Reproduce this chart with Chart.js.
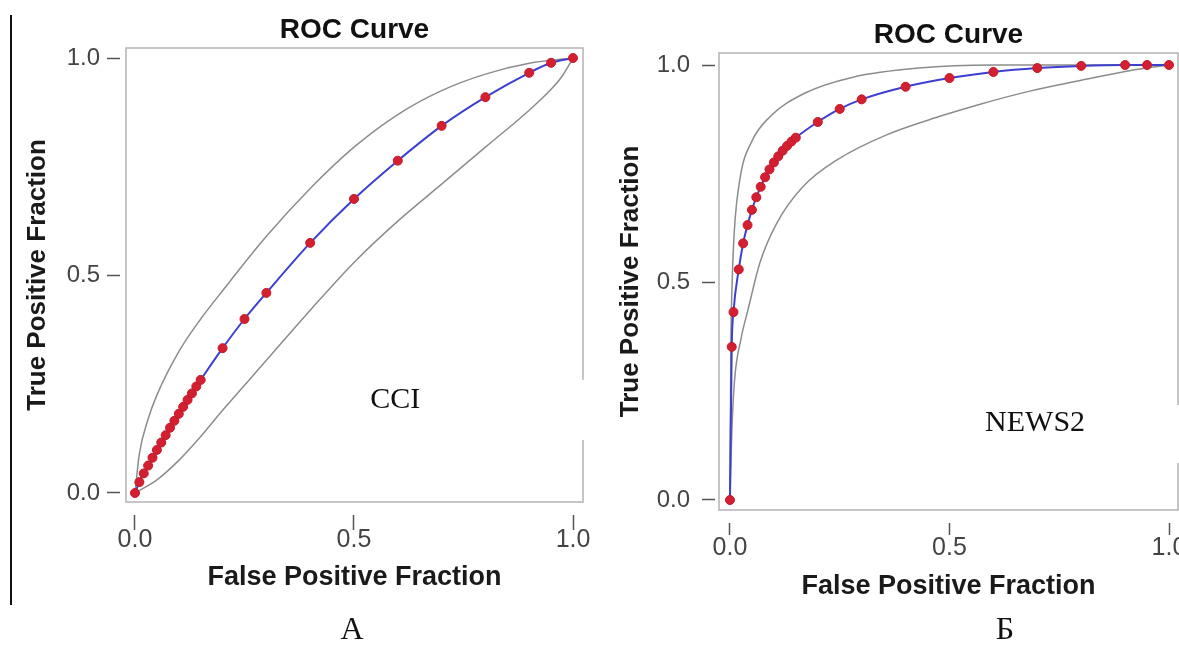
<!DOCTYPE html>
<html>
<head>
<meta charset="utf-8">
<script src="https://cdn.jsdelivr.net/npm/chart.js@4.4.1/dist/chart.umd.min.js"></script>
<style>
  html, body { margin: 0; padding: 0; background: #fff; overflow: hidden; }
  body { width: 1179px; height: 657px; position: relative; }
  .pane { position: absolute; top: 0; }
  #rule { position: absolute; left: 10px; top: 15px; width: 2px; height: 590px; background: #111; }
  .tag { position: absolute; top: 610px; font-family: "Liberation Serif", "Times New Roman", serif;
         font-size: 32px; color: #111; transform: translateX(-50%); }
</style>
</head>
<body>
<div id="rule"></div>
<div class="pane" style="left:0"><canvas id="cciChart" width="600" height="620"></canvas></div>
<div class="pane" style="left:600px"><canvas id="newsChart" width="600" height="620"></canvas></div>
<div class="tag" style="left:352px">А</div>
<div class="tag" style="left:1005px">Б</div>

<script>
const tickVals = [0, 0.5, 1.0];

// CCI: fitted ROC points
const cciFpf = [0, 0.01, 0.02, 0.03, 0.04, 0.05, 0.06, 0.07, 0.08, 0.09, 0.10, 0.11, 0.12, 0.13, 0.14, 0.15,
                0.20, 0.25, 0.30, 0.40, 0.50, 0.60, 0.70, 0.80, 0.90, 0.95, 1.0];
const cciTpf = [0, 0.025, 0.045, 0.063, 0.081, 0.099, 0.116, 0.133, 0.150, 0.166, 0.182, 0.198, 0.214, 0.229, 0.245, 0.260,
                0.333, 0.400, 0.460, 0.575, 0.676, 0.764, 0.844, 0.910, 0.966, 0.989, 1.0];
// CCI: confidence band
const cciUpperFpf = [0, 0.01, 0.03, 0.05, 0.10, 0.15, 0.20, 0.30, 0.40, 0.50, 0.60, 0.70, 0.80, 0.90, 1.0];
const cciUpperTpf = [0, 0.09, 0.17, 0.225, 0.325, 0.40, 0.465, 0.59, 0.70, 0.795, 0.87, 0.925, 0.963, 0.988, 1.0];
const cciLowerFpf = [0, 0.05, 0.10, 0.15, 0.20, 0.30, 0.40, 0.50, 0.60, 0.70, 0.80, 0.90, 0.95, 0.975, 1.0];
const cciLowerTpf = [0, 0.03, 0.075, 0.13, 0.19, 0.305, 0.42, 0.53, 0.625, 0.71, 0.795, 0.88, 0.928, 0.958, 1.0];

// NEWS2: fitted ROC points
const newsFpf = [0, 0.004, 0.008, 0.02, 0.03, 0.04, 0.05, 0.06, 0.07, 0.08, 0.09, 0.10, 0.11, 0.12, 0.13, 0.14, 0.15,
                 0.20, 0.25, 0.30, 0.40, 0.50, 0.60, 0.70, 0.80, 0.90, 0.95, 1.0];
const newsTpf = [0, 0.352, 0.432, 0.530, 0.590, 0.632, 0.667, 0.696, 0.720, 0.742, 0.760, 0.776, 0.790, 0.803, 0.814, 0.824, 0.833,
                 0.869, 0.899, 0.921, 0.950, 0.970, 0.984, 0.993, 0.998, 1.0, 1.0, 1.0];
// NEWS2: confidence band
const newsUpperFpf = [0, 0.002, 0.005, 0.01, 0.023, 0.05, 0.09, 0.17, 0.28, 0.43, 0.60, 0.80, 1.0];
const newsUpperTpf = [0, 0.35, 0.50, 0.62, 0.74, 0.825, 0.88, 0.935, 0.972, 0.993, 1.0, 1.0, 1.0];
const newsLowerFpf = [0, 0.004, 0.01, 0.025, 0.041, 0.068, 0.107, 0.166, 0.244, 0.358, 0.478, 0.57, 0.683, 0.80, 0.91, 1.0];
const newsLowerTpf = [0, 0.15, 0.27, 0.37, 0.437, 0.545, 0.637, 0.72, 0.782, 0.84, 0.882, 0.91, 0.94, 0.965, 0.987, 1.0];

const SANS = '"Liberation Sans", Arial, sans-serif';
const pts = (xs, ys) => xs.map((x, i) => ({ x, y: ys[i] }));

// light grey box around the plotting area
const framePlugin = {
  id: 'frame',
  beforeDatasetsDraw(chart) {
    const { ctx, chartArea: a } = chart;
    ctx.save();
    ctx.strokeStyle = '#b3b3b3';
    ctx.lineWidth = 1.5;
    ctx.strokeRect(a.left, a.top, a.right - a.left, a.bottom - a.top);
    ctx.restore();
  }
};

// score name in a white text box
const notePlugin = {
  id: 'note',
  afterDraw(chart, args, o) {
    const { ctx, chartArea: a, scales: { x, y } } = chart;
    const left = x.getPixelForValue(o.boxFrom);
    const top = y.getPixelForValue(o.boxTop);
    const bottom = y.getPixelForValue(o.boxBottom);
    ctx.save();
    ctx.fillStyle = '#fff';
    ctx.fillRect(left, top, a.right + 8 - left, bottom - top);
    ctx.font = '30px "Liberation Serif", "Times New Roman", serif';
    ctx.fillStyle = '#111';
    ctx.textAlign = 'center';
    ctx.textBaseline = 'middle';
    ctx.fillText(o.text, x.getPixelForValue(o.x), y.getPixelForValue(o.y));
    ctx.restore();
  }
};

function rocChart(id, L) {
  return new Chart(document.getElementById(id), {
    type: 'line',
    data: {
      datasets: [
        {
          data: pts(L.fpf, L.tpf),
          borderColor: '#3d3fcf', borderWidth: 2,
          pointRadius: 4.5, pointBackgroundColor: '#d41f31', pointBorderColor: '#c01a2c', pointBorderWidth: 1,
          cubicInterpolationMode: 'monotone', fill: false
        },
        {
          data: pts(L.upFpf, L.upTpf),
          borderColor: '#8c8c8c', borderWidth: 1.5, pointRadius: 0,
          cubicInterpolationMode: 'monotone', fill: false
        },
        {
          data: pts(L.loFpf, L.loTpf),
          borderColor: '#8c8c8c', borderWidth: 1.5, pointRadius: 0,
          cubicInterpolationMode: 'monotone', fill: false
        }
      ]
    },
    options: {
      responsive: false,
      animation: false,
      layout: { padding: { left: 0, top: 0, bottom: 0, right: L.padRight } },
      plugins: {
        legend: { display: false },
        tooltip: { enabled: false },
        title: {
          display: true, fullSize: false, text: 'ROC Curve', color: '#111',
          font: { family: SANS, size: 28, weight: 'bold' },
          padding: { top: L.titleTop, bottom: L.titleBottom }
        },
        note: L.note
      },
      scales: {
        x: {
          type: 'linear', min: L.xMin, max: L.xMax,
          afterBuildTicks: s => { s.ticks = tickVals.map(v => ({ value: v })); },
          afterFit: s => { s.height = L.xHeight; },
          grid: {
            display: true, drawOnChartArea: false, drawTicks: true,
            tickLength: L.xTick, tickColor: '#555', tickWidth: 1.5,
            tickBorderDash: [0, 13, L.xTick - 13, 200]
          },
          border: { display: false },
          ticks: {
            padding: L.xPad, color: '#444', maxRotation: 0, autoSkip: false,
            font: { family: SANS, size: 25 },
            callback: v => Number(v).toFixed(1)
          },
          title: {
            display: true, text: 'False Positive Fraction', color: '#1a1a1a',
            font: { family: SANS, size: 27, weight: 'bold' },
            padding: { top: 0, bottom: L.xTitlePad }
          }
        },
        y: {
          type: 'linear', min: L.yMin, max: L.yMax,
          afterBuildTicks: s => { s.ticks = tickVals.map(v => ({ value: v })); },
          afterFit: s => { s.width = L.yWidth; },
          grid: {
            display: true, drawOnChartArea: false, drawTicks: true,
            tickLength: L.yTick, tickColor: '#555', tickWidth: 1.5,
            tickBorderDash: [13, 200]
          },
          border: { display: false },
          ticks: {
            padding: L.yPad, color: '#444', autoSkip: false,
            font: { family: SANS, size: 24 },
            callback: v => Number(v).toFixed(1)
          },
          title: {
            display: true, text: 'True Positive Fraction', color: '#1a1a1a',
            font: { family: SANS, size: 26, weight: 'bold' },
            padding: { top: L.yTitlePad, bottom: 0 }
          }
        }
      }
    },
    plugins: [framePlugin, notePlugin]
  });
}

rocChart('cciChart', {
  fpf: cciFpf, tpf: cciTpf, upFpf: cciUpperFpf, upTpf: cciUpperTpf, loFpf: cciLowerFpf, loTpf: cciLowerTpf,
  xMin: -0.0205, xMax: 1.0228, yMin: -0.0207, yMax: 1.023,
  padRight: 17, xHeight: 118, yWidth: 126,
  titleTop: 13.4, titleBottom: 1,
  xTick: 28, xPad: -5, yTick: 19, yPad: 7,
  xTitlePad: 25.8, yTitlePad: 22.4,
  note: { text: 'CCI', x: 0.594, y: 0.214, boxFrom: 0.48, boxTop: 0.26, boxBottom: 0.122 }
});

rocChart('newsChart', {
  fpf: newsFpf, tpf: newsTpf, upFpf: newsUpperFpf, upTpf: newsUpperTpf, loFpf: newsLowerFpf, loTpf: newsLowerTpf,
  xMin: -0.025, xMax: 1.0205, yMin: -0.023, yMax: 1.0276,
  padRight: 22, xHeight: 110, yWidth: 119,
  titleTop: 18.6, titleBottom: 0.8,
  xTick: 25, xPad: -2, yTick: 17, yPad: 12,
  xTitlePad: 16.8, yTitlePad: 15.4,
  note: { text: 'NEWS2', x: 0.695, y: 0.177, boxFrom: 0.547, boxTop: 0.218, boxBottom: 0.085 }
});
</script>
</body>
</html>
